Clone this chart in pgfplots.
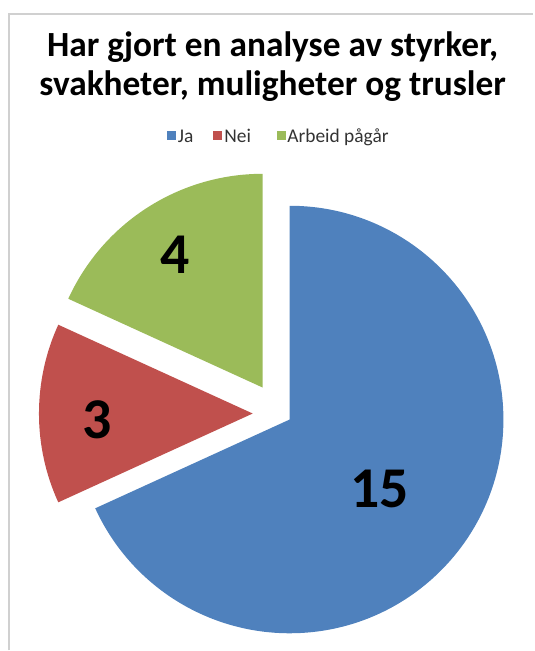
\documentclass[border=0pt]{standalone}
\usepackage{pgfplots}
\pgfplotsset{compat=1.18}
\usepackage{pgfplotstable}
\usepackage{fontspec}
\setmainfont{Carlito}
\definecolor{cJa}{HTML}{4F81BD}
\definecolor{cNei}{HTML}{C0504D}
\definecolor{cArb}{HTML}{9BBB59}
\definecolor{frame}{HTML}{D0D0D0}
% value, centre of exploded slice (px), label position (px)
\pgfplotstableread{
value cx cy lx ly
15 290 420 380 490
3 253 414 97 420
4 263 388 175 255
}\piedata
\pgfplotstablegetelem{0}{value}\of\piedata\edef\vA{\pgfplotsretval}
\pgfplotstablegetelem{1}{value}\of\piedata\edef\vB{\pgfplotsretval}
\pgfplotstablegetelem{2}{value}\of\piedata\edef\vC{\pgfplotsretval}
\pgfmathsetmacro\tot{\vA+\vB+\vC}
\pgfmathsetmacro\aA{90-360*\vA/\tot}
\pgfmathsetmacro\aB{\aA-360*\vB/\tot}
\pgfmathsetmacro\aC{\aB-360*\vC/\tot}
\def\R{214bp}
\begin{document}
\begin{tikzpicture}
\begin{axis}[
  scale only axis, width=534bp, height=651bp,
  xmin=0, xmax=534, ymin=0, ymax=651, y dir=reverse,
  hide axis, clip=false]
\path (axis cs:0,0) rectangle (axis cs:534,651);
\draw[frame, line width=1.5bp] (axis cs:9,651) -- (axis cs:9,14) -- (axis cs:534,14);
% slices
\fill[cJa] (axis cs:290,420) -- ++(90:\R) arc[start angle=90, end angle=\aA, radius=\R] -- cycle;
\fill[cNei] (axis cs:253,414) -- ++(\aA:\R) arc[start angle=\aA, end angle=\aB, radius=\R] -- cycle;
\fill[cArb] (axis cs:263,388) -- ++(\aB:\R) arc[start angle=\aB, end angle=\aC, radius=\R] -- cycle;
% data labels
\node[font=\bfseries\fontsize{58}{62}\selectfont] at (axis cs:380,490) {\vA};
\node[font=\bfseries\fontsize{58}{62}\selectfont] at (axis cs:97,420) {\vB};
\node[font=\bfseries\fontsize{58}{62}\selectfont] at (axis cs:175,255) {\vC};
% title
\node[font=\bfseries\fontsize{35.5}{40}\selectfont, anchor=base, inner sep=0pt] at (axis cs:273,57) {Har gjort en analyse av styrker,};
\node[font=\bfseries\fontsize{35.5}{40}\selectfont, anchor=base, inner sep=0pt] at (axis cs:273,96) {svakheter, muligheter og trusler};
% legend
\fill[cJa] (axis cs:167,131) rectangle (axis cs:176,140);
\node[font=\fontsize{19.5}{22}\selectfont, text=black!80, anchor=base west, inner sep=0pt] at (axis cs:178,142.5) {Ja};
\fill[cNei] (axis cs:213,131) rectangle (axis cs:222,140);
\node[font=\fontsize{19.5}{22}\selectfont, text=black!80, anchor=base west, inner sep=0pt] at (axis cs:224.5,142.5) {Nei};
\fill[cArb] (axis cs:277,131) rectangle (axis cs:286,140);
\node[font=\fontsize{19.5}{22}\selectfont, text=black!80, anchor=base west, inner sep=0pt] at (axis cs:287.5,142.5) {Arbeid pågår};
\end{axis}
\end{tikzpicture}
\end{document}
